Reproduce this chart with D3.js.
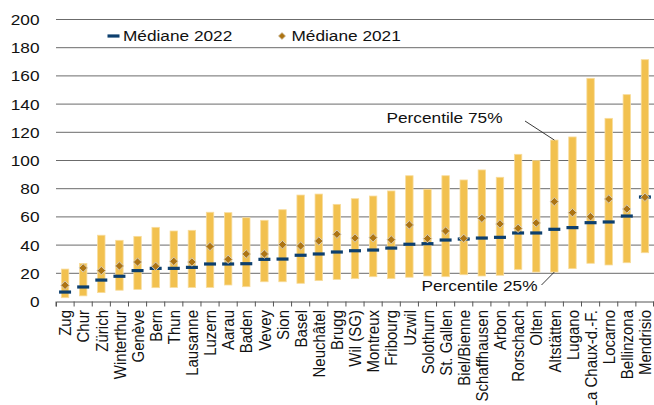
<!DOCTYPE html>
<html>
<head>
<meta charset="utf-8">
<script src="https://cdn.jsdelivr.net/npm/d3@7"></script>
<style>
  body { margin: 0; background: #fff; }
  svg { display: block; font-family: "Liberation Sans", Arial, sans-serif; }
</style>
</head>
<body>
<svg id="chart"></svg>
<script>
const WIDTH = 654;
const HEIGHT = 405;
const STRETCH = 1.15; // text in the original is a bit wider than high

const cities = ['Zug', 'Chur', 'Zürich', 'Winterthur', 'Genève', 'Bern', 'Thun', 'Lausanne',
  'Luzern', 'Aarau', 'Baden', 'Vevey', 'Sion', 'Basel', 'Neuchâtel', 'Brugg', 'Wil (SG)',
  'Montreux', 'Fribourg', 'Uzwil', 'Solothurn', 'St. Gallen', 'Biel/Bienne', 'Schaffhausen',
  'Arbon', 'Rorschach', 'Olten', 'Altstätten', 'Lugano', 'La Chaux-d.-F.', 'Locarno',
  'Bellinzona', 'Mendrisio'];
const p25 = [2.7, 4, 6.3, 8, 8.6, 9.8, 10, 10, 10, 11.7, 10.5, 14, 14, 12.9, 14.8, 15.7, 16.2,
  17.6, 16.2, 17.2, 18.1, 17.6, 19, 18.1, 18.6, 22.8, 20.9, 20.9, 23.3, 27.1, 25.9, 27.5, 34.6];
const p75 = [23, 27, 47, 43.4, 46.2, 52.6, 50, 50.5, 63.3, 63, 59.4, 57.6, 65.1, 75.5, 76.2, 68.9,
  72.9, 74.8, 78.4, 89.2, 79.6, 89.2, 86.2, 93.3, 88.1, 104.4, 99.9, 114.5, 116.7, 158.3, 129.9,
  146.7, 171.5];
const median2022 = [6.7, 10.3, 15.2, 17.9, 21.9, 23.5, 23.5, 24.2, 26.6, 26.6, 26.8, 29.9, 30.1,
  32.8, 33.7, 35.1, 36, 36.5, 37.9, 40.6, 41, 43.6, 44.3, 45, 45.5, 48.6, 48.6, 51.2, 52.4, 55.9,
  56.4, 60.6, 74.1];
const median2021 = [11.5, 23.8, 21.9, 25.2, 28, 25, 28.5, 28, 39, 29.9, 33.7, 33.7, 40.3, 39.4,
  42.9, 47.7, 45, 45.2, 43.8, 54.3, 44.6, 50, 44.8, 59, 55, 51.9, 55.7, 70.8, 63, 60.1, 72.7,
  65.6, 73.9];
const yTicks = [0, 20, 40, 60, 80, 100, 120, 140, 160, 180, 200];
const legendLabels = ['Médiane 2022', 'Médiane 2021'];
const annotated = 'Altstätten';

const rows = cities.map((c, i) => ({
  city: c, lo: p25[i], hi: p75[i], m22: median2022[i], m21: median2021[i]
}));

const svg = d3.select('#chart').attr('width', WIDTH).attr('height', HEIGHT);

const x = d3.scaleBand().domain(cities).range([56, 654]).padding(0);
const y = d3.scaleLinear().domain([0, 200]).range([301.5, 19.5]);
const cx = d3.scaleBand().domain(cities).range([56, 654]);
const barW = x.step() * 0.41;
const mid = c => x(c) + x.bandwidth() / 2;

// gridlines
svg.append('g')
  .selectAll('line')
  .data(yTicks.slice(1))
  .enter().append('line')
  .attr('x1', 56).attr('x2', 654)
  .attr('y1', d => y(d)).attr('y2', d => y(d))
  .attr('stroke', '#6b6b6b').attr('stroke-width', 1);

// y labels
svg.append('g')
  .selectAll('g')
  .data(yTicks)
  .enter().append('g')
  .attr('transform', d => `translate(39.5,${y(d)}) scale(${STRETCH},1)`)
  .append('text')
  .attr('text-anchor', 'end')
  .attr('dy', '0.36em')
  .attr('font-size', 15)
  .attr('fill', '#111')
  .text(d => d);

// x axis
const xAxis = svg.append('g')
  .attr('transform', `translate(0,${y(0)})`)
  .call(d3.axisBottom(x).tickSize(5).tickFormat(''));
xAxis.select('.domain').attr('stroke', '#555');
xAxis.selectAll('.tick line')
  .attr('stroke', '#555')
  .attr('transform', `translate(${-x.step() / 2},0)`);
xAxis.append('line')
  .attr('x1', 654 - 0.5).attr('x2', 654 - 0.5).attr('y1', 0).attr('y2', 5)
  .attr('stroke', '#555');

// x labels
svg.append('g')
  .selectAll('g')
  .data(cities)
  .enter().append('g')
  .attr('transform', d => `translate(${mid(d)},310) scale(${STRETCH},1) rotate(-90)`)
  .append('text')
  .attr('text-anchor', 'end')
  .attr('dy', '0.36em')
  .attr('font-size', 15)
  .attr('fill', '#111')
  .text(d => d);

// percentile bars
svg.append('g')
  .selectAll('rect')
  .data(rows)
  .enter().append('rect')
  .attr('x', d => mid(d.city) - barW / 2)
  .attr('width', barW)
  .attr('y', d => y(d.hi))
  .attr('height', d => y(d.lo) - y(d.hi))
  .attr('fill', '#f2c14f')
  .attr('stroke', '#f8dc9c')
  .attr('stroke-width', 0.8);

// median 2022
svg.append('g')
  .selectAll('rect')
  .data(rows)
  .enter().append('rect')
  .attr('x', d => mid(d.city) - 6)
  .attr('width', 12)
  .attr('y', d => y(d.m22) - 1.6)
  .attr('height', 3.2)
  .attr('fill', '#0d3f6e');

// median 2021
const diamond = r => `M0,${-r}L${r},0L0,${r}L${-r},0Z`;
svg.append('g')
  .selectAll('path')
  .data(rows)
  .enter().append('path')
  .attr('transform', d => `translate(${mid(d.city)},${y(d.m21)})`)
  .attr('d', diamond(4.2))
  .attr('fill', '#ad7413')
  .attr('stroke', '#d6cdbb')
  .attr('stroke-width', 1);

// legend
const legend = svg.append('g');
legend.append('rect')
  .attr('x', 107.5).attr('y', 34.4).attr('width', 12).attr('height', 3.2)
  .attr('fill', '#0d3f6e');
legend.append('path')
  .attr('transform', 'translate(282,36)')
  .attr('d', diamond(3.6))
  .attr('fill', '#ad7413')
  .attr('stroke', '#d6cdbb')
  .attr('stroke-width', 0.8);
legend.selectAll('g')
  .data(legendLabels)
  .enter().append('g')
  .attr('transform', (d, i) => `translate(${[123, 291.5][i]},36) scale(${STRETCH},1)`)
  .append('text')
  .attr('dy', '0.36em')
  .attr('font-size', 15)
  .attr('fill', '#111')
  .text(d => d);

// annotations for percentiles
const ai = cities.indexOf(annotated);
const ax = mid(annotated);
const notes = [
  { label: 'Percentile 75%', tx: 502.5, ty: 118, x1: 525, y1: 121, x2: ax, y2: y(p75[ai]) },
  { label: 'Percentile 25%', tx: 537.5, ty: 286, x1: 541.5, y1: 285, x2: ax, y2: y(p25[ai]) }
];
const note = svg.append('g').selectAll('g').data(notes).enter().append('g');
note.append('line')
  .attr('x1', d => d.x1).attr('y1', d => d.y1)
  .attr('x2', d => d.x2).attr('y2', d => d.y2)
  .attr('stroke', '#222').attr('stroke-width', 0.9);
note.append('g')
  .attr('transform', d => `translate(${d.tx},${d.ty}) scale(${STRETCH},1)`)
  .append('text')
  .attr('text-anchor', 'end')
  .attr('dy', '0.36em')
  .attr('font-size', 15)
  .attr('fill', '#111')
  .text(d => d.label);
</script>
</body>
</html>
